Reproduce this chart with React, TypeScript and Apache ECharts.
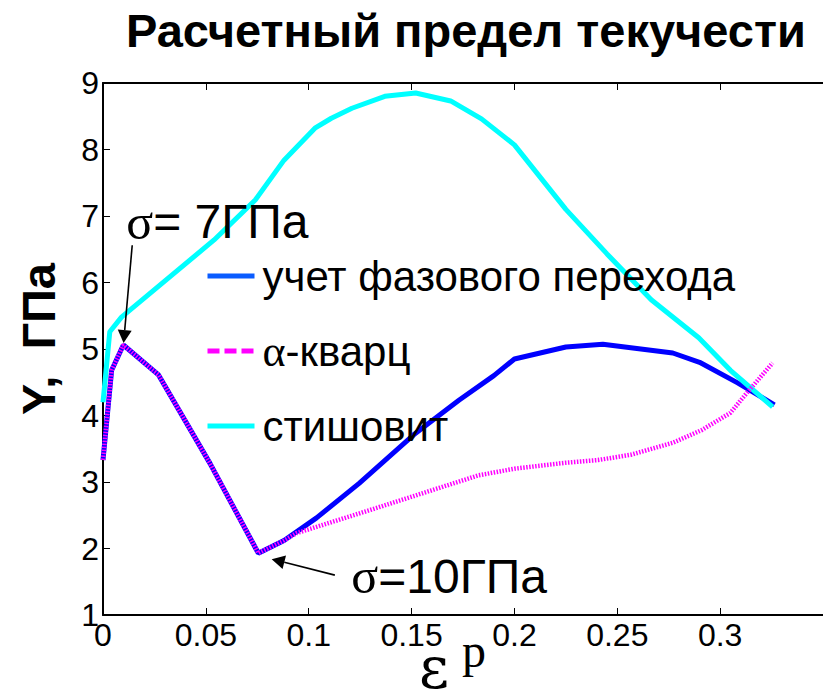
import React, { useEffect, useRef } from "react";
import * as echarts from "echarts";

const SANS = "'Liberation Sans', Arial, Helvetica, sans-serif";
const SERIF = "'Liberation Serif', 'Times New Roman', Times, serif";

const chartTitle = "Расчетный предел текучести";
const yAxisTitle = "Y,  ГПа";
const seriesNames = ["учет фазового перехода", "α-кварц", "стишовит"];

// plastic strain ticks and yield-stress ticks
const xTicks = [0, 0.05, 0.1, 0.15, 0.2, 0.25, 0.3, 0.35];
const yTicks = [1, 2, 3, 4, 5, 6, 7, 8, 9];

// with phase transition
const phaseStrain = [0, 0.0042, 0.0099, 0.027, 0.052, 0.0755, 0.088, 0.1038, 0.1245, 0.151, 0.173, 0.19, 0.2, 0.225, 0.243, 0.277, 0.29, 0.3085, 0.3264];
const phaseYield = [3.33, 4.68, 5.06, 4.61, 3.28, 1.93, 2.12, 2.46, 2.98, 3.71, 4.23, 4.6, 4.85, 5.03, 5.07, 4.94, 4.8, 4.49, 4.16];

// alpha-quartz
const quartzStrain = [0, 0.0042, 0.0099, 0.027, 0.052, 0.0755, 0.088, 0.094, 0.131, 0.1825, 0.2, 0.225, 0.2406, 0.2566, 0.277, 0.291, 0.305, 0.313, 0.3255];
const quartzYield = [3.33, 4.68, 5.06, 4.61, 3.28, 1.93, 2.12, 2.23, 2.59, 3.1, 3.2, 3.29, 3.33, 3.41, 3.59, 3.78, 4.04, 4.34, 4.79];

// stishovite
const stishStrain = [0, 0.0033, 0.009, 0.054, 0.074, 0.088, 0.103, 0.111, 0.121, 0.137, 0.152, 0.169, 0.184, 0.2, 0.225, 0.245, 0.2665, 0.2896, 0.305, 0.3255];
const stishYield = [4.2, 5.26, 5.48, 6.64, 7.24, 7.84, 8.32, 8.47, 8.62, 8.8, 8.85, 8.73, 8.46, 8.07, 7.1, 6.43, 5.74, 5.17, 4.68, 4.13];

// pressure callouts: label anchor, arrow tail and arrow tip in data units
const callouts = [
  { sigma: "σ", rest: "= 7ГПа", at: [0.0113, 6.91], tail: [0.0142, 6.56], tip: [0.01, 5.09] },
  { sigma: "σ", rest: "=10ГПа", at: [0.1207, 1.586], tail: [0.1127, 1.6], tip: [0.082, 1.84] },
];

const zip = (xs: number[], ys: number[]) => xs.map((x, i) => [x, ys[i]]);

export default function App() {
  const ref = useRef<HTMLDivElement>(null);

  useEffect(() => {
    if (!ref.current) return;
    const chart = echarts.init(ref.current, undefined, { renderer: "svg" });

    const axisCommon = {
      type: "value" as const,
      splitLine: { show: false },
      axisLine: { show: true, onZero: false, lineStyle: { color: "#000", width: 2 } },
      axisTick: { show: true, inside: true, length: 7, lineStyle: { color: "#000", width: 1 } },
    };

    const option: any = {
      animation: false,
      backgroundColor: "#fff",
      title: {
        text: chartTitle,
        left: 126,
        top: 7,
        padding: 0,
        textStyle: { fontSize: 47, fontWeight: "bold", fontFamily: SANS, color: "#000" },
      },
      grid: { left: 103, right: -22, top: 83, bottom: 84 },
      legend: {
        orient: "vertical",
        left: 205,
        top: 255,
        padding: 0,
        itemWidth: 47,
        itemHeight: 14,
        itemGap: 32,
        selectedMode: false,
        itemStyle: { opacity: 0 },
        data: [
          { name: seriesNames[0], itemStyle: { opacity: 0 }, lineStyle: { color: "#0a5cff", width: 5 } },
          { name: seriesNames[1], itemStyle: { opacity: 0 }, lineStyle: { color: "#ff00ff", width: 5, type: [12, 5] } },
          { name: seriesNames[2], itemStyle: { opacity: 0 }, lineStyle: { color: "#00ffff", width: 5 } },
        ],
        formatter: (name: string) => (name === seriesNames[1] ? "{g|α}-кварц" : name),
        textStyle: {
          fontSize: 42,
          fontFamily: SANS,
          color: "#000",
          padding: [0, 0, 0, 3],
          rich: { g: { fontSize: 44, fontFamily: SERIF, color: "#000" } },
        },
      },
      xAxis: [
        {
          ...axisCommon,
          position: "bottom",
          min: 0,
          max: 0.35,
          interval: 0.05,
          axisLabel: {
            fontSize: 32,
            fontFamily: SANS,
            color: "#000",
            margin: 4,
            showMaxLabel: false,
            formatter: (v: number) => (v > 0.34 ? "" : String(+v.toFixed(2))),
          },
        },
        {
          ...axisCommon,
          position: "top",
          min: 0,
          max: 0.35,
          interval: 0.05,
          axisLabel: { show: false },
        },
      ],
      yAxis: {
        ...axisCommon,
        min: 1,
        max: 9,
        interval: 1,
        axisLabel: { fontSize: 32, fontFamily: SANS, color: "#000", margin: 4 },
      },
      series: [
        {
          name: seriesNames[0],
          type: "line",
          symbol: "none",
          data: zip(phaseStrain, phaseYield),
          lineStyle: { color: "#0000ff", width: 5 },
          itemStyle: { color: "#0a5cff" },
          z: 2,
        },
        {
          name: seriesNames[2],
          type: "line",
          symbol: "none",
          data: zip(stishStrain, stishYield),
          lineStyle: { color: "#00ffff", width: 5 },
          itemStyle: { color: "#00ffff" },
          z: 3,
        },
        {
          name: seriesNames[1],
          type: "line",
          symbol: "none",
          data: zip(quartzStrain, quartzYield),
          lineStyle: { color: "#ff00ff", width: 4.5, type: [1.5, 1.5] },
          itemStyle: { color: "#ff00ff" },
          z: 4,
        },
      ],
    };

    chart.setOption(option);

    const px = (p: number[]) => chart.convertToPixel({ gridIndex: 0 }, p) as number[];
    const graphics: any[] = [];

    callouts.forEach((c) => {
      const t = px(c.tip);
      const s = px(c.tail);
      const dx = t[0] - s[0];
      const dy = t[1] - s[1];
      const len = Math.hypot(dx, dy);
      const ux = dx / len;
      const uy = dy / len;
      const headLen = 13;
      const headHalf = 7;
      const bx = t[0] - ux * headLen;
      const by = t[1] - uy * headLen;
      graphics.push({
        type: "line",
        shape: { x1: s[0], y1: s[1], x2: bx, y2: by },
        style: { stroke: "#000", lineWidth: 1.6 },
        z: 10,
      });
      graphics.push({
        type: "polygon",
        shape: {
          points: [
            [t[0], t[1]],
            [bx - uy * headHalf, by + ux * headHalf],
            [bx + uy * headHalf, by - ux * headHalf],
          ],
        },
        style: { fill: "#000" },
        z: 10,
      });
      const a = px(c.at);
      graphics.push({
        type: "text",
        x: a[0],
        y: a[1],
        style: {
          text: `{s|${c.sigma}}{r|${c.rest}}`,
          verticalAlign: "middle",
          align: "left",
          rich: {
            s: { fontSize: 50, fontFamily: SERIF, fill: "#000", color: "#000" },
            r: { fontSize: 48, fontFamily: SANS, fill: "#000", color: "#000" },
          },
        },
        z: 10,
      });
    });

    // rotated y-axis title
    graphics.push({
      type: "text",
      x: 38,
      y: 339,
      rotation: Math.PI / 2,
      style: {
        text: yAxisTitle,
        fontSize: 47,
        fontWeight: "bold",
        fontFamily: SANS,
        fill: "#000",
        align: "center",
        verticalAlign: "middle",
      },
    });

    // x-axis title: epsilon with superscript p
    graphics.push({
      type: "text",
      x: 434,
      y: 668,
      style: {
        text: "ε",
        fontSize: 58,
        lineHeight: 30,
        fontFamily: "'DejaVu Serif', serif",
        fill: "#000",
        align: "center",
        verticalAlign: "middle",
      },
    });
    graphics.push({
      type: "text",
      x: 462,
      y: 650,
      style: { text: "p", fontSize: 48, lineHeight: 34, fontFamily: SERIF, fill: "#000", align: "left", verticalAlign: "middle" },
    });

    chart.setOption({ graphic: graphics });

    return () => chart.dispose();
  }, []);

  return (
    <div style={{ position: "fixed", left: 0, top: 0, width: 823, height: 699, background: "#fff" }}>
      <div ref={ref} style={{ width: 823, height: 699 }} />
    </div>
  );
}
